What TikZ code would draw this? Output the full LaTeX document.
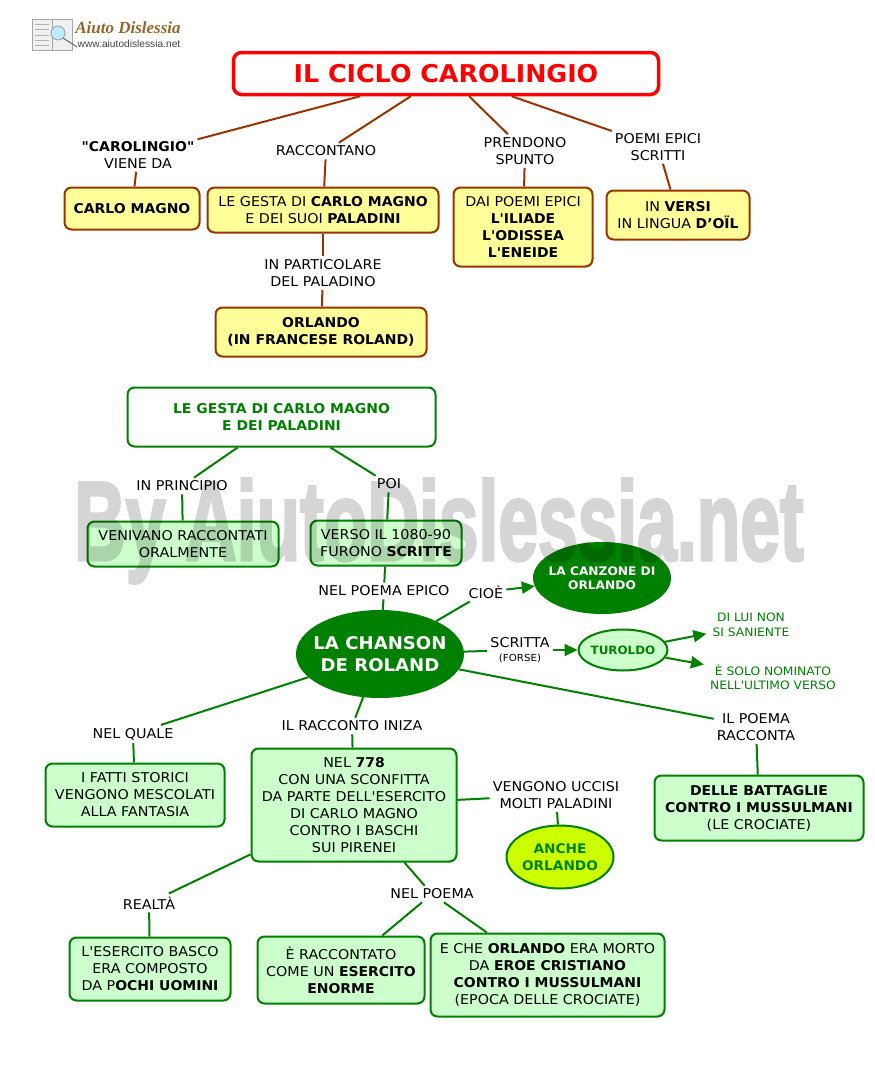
\documentclass[tikz,border=0pt]{standalone}
\usepackage{fontspec}
\setmainfont{DejaVu Sans}[Ligatures=TeXOff, FakeStretch=1.06, BoldFeatures={FakeStretch=1.035}]
\newfontfamily\markfont{Liberation Sans Bold}[RawFeature={embolden=3}]
\newfontfamily\logofont{Liberation Serif}
\newfontfamily\urlfont{Liberation Sans}
\usetikzlibrary{shapes.geometric,arrows.meta}
\definecolor{brownline}{RGB}{153,51,0}
\definecolor{yellowfill}{RGB}{255,255,153}
\definecolor{greenline}{RGB}{0,128,0}
\definecolor{greenfill}{RGB}{204,255,204}
\definecolor{limefill}{RGB}{204,255,0}
\definecolor{logobrown}{RGB}{150,100,40}
\begin{document}
\begin{tikzpicture}[x=1pt,y=-1pt]
    \useasboundingbox (0,0) rectangle (875,1068);
    \begin{scope}
        \tikzstyle{every node}=[align=center, inner sep=3pt, text=black, font=\fontsize{13.5}{17}\selectfont]
        \node (viene) at (138,155) {\textbf{"CAROLINGIO"}\\VIENE DA};
        \node (raccontano) at (326,151) {RACCONTANO};
        \node (prendono) at (525,151) {PRENDONO\\SPUNTO};
        \node (scritti) at (658,147) {POEMI EPICI\\SCRITTI};
        \node (particolare) at (323,273) {IN PARTICOLARE\\DEL PALADINO};
        \node (principio) at (182,486) {IN PRINCIPIO};
        \node (poi) at (389,484) {POI};
        \node (poema) at (384,591) {NEL POEMA EPICO};
        \node (cioe) at (486,592) {CIOÈ};
        \node (scritta) at (520,650) {SCRITTA\\[-3pt]{\fontsize{9.7}{12}\selectfont(FORSE)}};
        \node (quale) at (133,734) {NEL QUALE};
        \node (iniza) at (352,726) {IL RACCONTO INIZA};
        \node (racconta) at (756,727) {IL POEMA\\RACCONTA};
        \node (uccisi) at (556,795) {VENGONO UCCISI\\MOLTI PALADINI};
        \node (realta) at (149,903) {REALTÀ};
        \node (nelpoema) at (432,894) {NEL POEMA};
    \end{scope}
    \begin{scope}
        \tikzstyle{every node}=[draw=red, fill=white, rounded corners=8, line width=3.5pt, text=red, font=\fontsize{24.5}{28}\selectfont\bfseries]
        \node[minimum width=425, minimum height=42] (titolo) at (446,73.5) {IL CICLO CAROLINGIO};
    \end{scope}
    \begin{scope}
        \tikzstyle{every node}=[draw=brownline, fill=yellowfill, rounded corners=7, line width=2pt, align=center, inner sep=0pt, text=black, font=\fontsize{13.5}{17}\selectfont]
        \node[minimum width=135, minimum height=42] (carlo) at (132,208.5) {\textbf{CARLO MAGNO}};
        \node[minimum width=231, minimum height=45] (gesta) at (323,210) {LE GESTA DI \textbf{CARLO MAGNO}\\E DEI SUOI \textbf{PALADINI}};
        \node[minimum width=139, minimum height=79] (dai) at (523,227) {DAI POEMI EPICI\\\textbf{L'ILIADE}\\\textbf{L'ODISSEA}\\\textbf{L'ENEIDE}};
        \node[minimum width=143, minimum height=49] (versi) at (678,215) {IN \textbf{VERSI}\\IN LINGUA \textbf{D’OÏL}};
        \node[minimum width=211, minimum height=49] (orlando) at (321,332) {\textbf{ORLANDO}\\\textbf{(IN FRANCESE ROLAND)}};
    \end{scope}
    \begin{scope}
        \tikzstyle{every node}=[draw=greenline, fill=greenfill, rounded corners=7, line width=2pt, align=center, inner sep=0pt, text=black, font=\fontsize{13.5}{17}\selectfont]
        \node[minimum width=191, minimum height=45] (venivano) at (183,544) {VENIVANO RACCONTATI\\ORALMENTE};
        \node[minimum width=151, minimum height=45] (verso) at (386,543) {VERSO IL 1080-90\\FURONO \textbf{SCRITTE}};
        \node[minimum width=179, minimum height=63] (fatti) at (135,795) {I FATTI STORICI\\VENGONO MESCOLATI\\ALLA FANTASIA};
        \node[minimum width=205, minimum height=113] (nel) at (354,805) {NEL \textbf{778}\\CON UNA SCONFITTA\\DA PARTE DELL'ESERCITO\\DI CARLO MAGNO\\CONTRO I BASCHI\\SUI PIRENEI};
        \node[minimum width=209, minimum height=65] (battaglie) at (759,808) {\textbf{DELLE BATTAGLIE}\\\textbf{CONTRO I MUSSULMANI}\\(LE CROCIATE)};
        \node[minimum width=161, minimum height=63] (basco) at (150,969) {L'ESERCITO BASCO\\ERA COMPOSTO\\DA P\textbf{OCHI UOMINI}};
        \node[minimum width=167, minimum height=67] (enorme) at (341,970) {È RACCONTATO\\COME UN \textbf{ESERCITO}\\\textbf{ENORME}};
        \node[minimum width=234, minimum height=83] (eche) at (547.5,975) {E CHE \textbf{ORLANDO} ERA MORTO\\DA \textbf{EROE CRISTIANO}\\\textbf{CONTRO I MUSSULMANI}\\(EPOCA DELLE CROCIATE)};
    \end{scope}
    \begin{scope}
        \tikzstyle{every node}=[draw=greenline, fill=white, rounded corners=7, line width=2pt, align=center, inner sep=0pt, text=greenline, font=\fontsize{13.5}{17}\selectfont\bfseries]
        \node[minimum width=308, minimum height=59] (paladini) at (281.5,417) {LE GESTA DI CARLO MAGNO\\E DEI PALADINI};
    \end{scope}
    \begin{scope}
        \tikzstyle{every node}=[ellipse, draw=greenline, fill=greenline, line width=1pt, align=center, inner ysep=0pt, text=white]
        \node[inner xsep=-8pt, minimum width=167, minimum height=87, font=\fontsize{17.5}{22}\selectfont\bfseries] (chanson) at (380,654) {LA CHANSON\\DE ROLAND};
        \node[inner xsep=-6pt, minimum width=137, minimum height=71, font=\fontsize{11.8}{14.5}\selectfont\bfseries] (canzone) at (602,578) {LA CANZONE DI\\ORLANDO};
    \end{scope}
    \begin{scope}
        \tikzstyle{every node}=[ellipse, draw=greenline, line width=2pt, align=center, inner ysep=0pt, text=greenline]
        \node[fill=greenfill, inner xsep=-2pt, minimum width=89, minimum height=41, font=\fontsize{11.5}{14}\selectfont\bfseries] (turoldo) at (623,650) {TUROLDO};
        \node[fill=limefill, inner xsep=-2pt, minimum width=107, minimum height=63, font=\fontsize{13.2}{17}\selectfont\bfseries] (anche) at (560,857) {ANCHE\\ORLANDO};
    \end{scope}
    \begin{scope}
        \tikzstyle{every node}=[align=center, inner sep=6pt, text=greenline, font=\fontsize{11.6}{14.5}\selectfont]
        \node (dilui) at (751,625) {DI LUI NON\\SI SANIENTE};
        \node (solo) at (773,677) {È SOLO NOMINATO\\NELL'ULTIMO VERSO};
    \end{scope}
    \begin{scope}
        \tikzstyle{every edge}=[draw=brownline, line width=2pt]
        \path
        (titolo) edge (viene)
        (titolo) edge (raccontano)
        (titolo) edge (prendono)
        (titolo) edge (scritti)
        (viene) edge (carlo)
        (raccontano) edge (gesta)
        (prendono) edge (dai)
        (scritti) edge (versi)
        (gesta) edge (particolare)
        (particolare) edge (orlando);
    \end{scope}
    \begin{scope}
        \tikzstyle{every edge}=[draw=greenline, line width=2pt]
        \path
        (paladini) edge (principio)
        (paladini) edge (poi)
        (principio) edge (venivano)
        (poi) edge (verso)
        (verso) edge (poema)
        (poema) edge (chanson)
        (chanson) edge (cioe)
        (chanson) edge (scritta)
        (chanson) edge (quale)
        (chanson) edge (iniza)
        (chanson) edge (racconta)
        (quale) edge (fatti)
        (iniza) edge (nel)
        (racconta) edge (battaglie)
        (nel) edge (uccisi)
        (uccisi) edge (anche)
        (nel) edge (realta)
        (nel) edge (nelpoema)
        (realta) edge (basco)
        (nelpoema) edge (enorme)
        (nelpoema) edge (eche);
    \end{scope}
    \begin{scope}
        \tikzstyle{every edge}=[draw=greenline, line width=2pt, -{Triangle[length=13,width=12]}]
        \path
        (cioe) edge (canzone)
        (scritta) edge (turoldo)
        (turoldo) edge (dilui)
        (turoldo) edge (solo);
    \end{scope}
    \begin{scope}
        \node[inner sep=0pt, text=logobrown, font=\logofont\fontsize{17}{19}\selectfont\bfseries\itshape] (logotitolo) at (128,27.5) {Aiuto Dislessia};
        \node[inner sep=0pt, text=black!75, font=\urlfont\fontsize{10.2}{12}\selectfont] (logourl) at (129,44) {www.aiutodislessia.net};
        \draw[black!35, fill=black!6, line width=0.8pt] (32,19) rectangle (72,50);
        \draw[black!35, line width=0.8pt] (52,19) -- (52,50);
        \draw[black!30, line width=0.7pt] (35,24) -- (49,24) (35,29) -- (49,29) (35,35) -- (49,35) (35,40) -- (49,40) (35,45) -- (49,45);
        \draw[black!60, line width=1pt] (63,38) -- (77,47);
        \draw[black!40, fill=cyan!25, line width=0.8pt] (58,33) circle (7);
    \end{scope}
    \begin{scope}[transparency group, opacity=0.165]
        \node[inner sep=6pt, text=black, xscale=0.637, transform shape, font=\markfont\fontsize{112}{120}\selectfont] (marchio) at (439,531) {By AiutoDislessia.net};
    \end{scope}
\end{tikzpicture}
\end{document}
